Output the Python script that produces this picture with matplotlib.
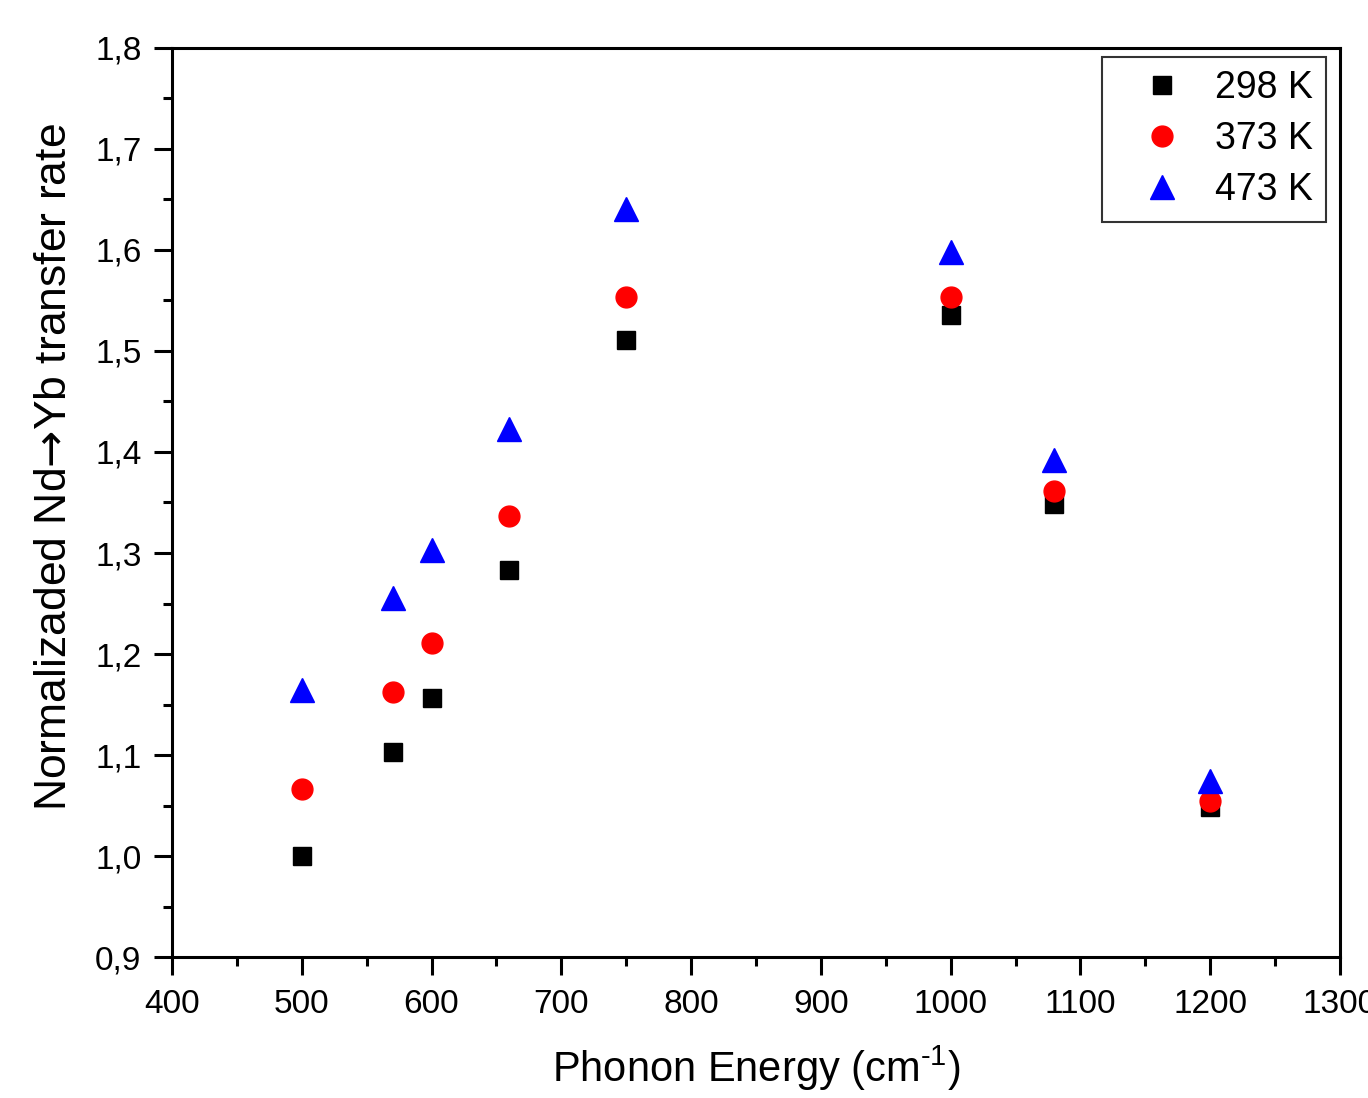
import matplotlib
matplotlib.use('Agg')
import matplotlib.pyplot as plt
from matplotlib.ticker import MultipleLocator, FuncFormatter

plt.rcParams['font.family'] = ['Liberation Sans', 'DejaVu Sans']
plt.rcParams['mathtext.fontset'] = 'custom'
plt.rcParams['mathtext.rm'] = 'Liberation Sans'
plt.rcParams['mathtext.sf'] = 'DejaVu Sans'

# Phonon energy (cm-1)
energy = [500, 570, 600, 660, 750, 1000, 1080, 1200]

# Normalized Nd->Yb transfer rate for each temperature
rate_298 = [1.000, 1.103, 1.156, 1.283, 1.511, 1.536, 1.349, 1.049]
rate_373 = [1.066, 1.162, 1.211, 1.337, 1.553, 1.553, 1.361, 1.054]
rate_473 = [1.164, 1.255, 1.303, 1.423, 1.641, 1.598, 1.392, 1.074]

labels = ["298 K", "373 K", "473 K"]

fig = plt.figure(figsize=(13.68, 10.98), dpi=100)
ax = fig.add_axes([0.1257, 0.1284, 0.8538, 0.8279])

ax.plot(energy, rate_298, 's', color='black', ms=13.5, mec='black', label=labels[0], linestyle='none')
ax.plot(energy, rate_373, 'o', color='red', ms=15, mec='red', label=labels[1], linestyle='none')
ax.plot(energy, rate_473, '^', color='blue', ms=17, mec='blue', label=labels[2], linestyle='none')

ax.set_xlim(400, 1300)
ax.set_ylim(0.9, 1.8)
ax.xaxis.set_major_locator(MultipleLocator(100))
ax.xaxis.set_minor_locator(MultipleLocator(50))
ax.yaxis.set_major_locator(MultipleLocator(0.1))
ax.yaxis.set_minor_locator(MultipleLocator(0.05))
ax.yaxis.set_major_formatter(FuncFormatter(lambda v, p: f"{v:.1f}".replace('.', ',')))

for s in ax.spines.values():
    s.set_linewidth(2.2)
ax.tick_params(which='major', direction='out', length=13, width=2.2, labelsize=24)
ax.tick_params(axis='x', which='major', pad=10)
ax.tick_params(axis='y', which='major', pad=9)
ax.tick_params(which='minor', direction='out', length=6.5, width=2.2)

ax.set_xlabel("Phonon Energy (cm$^{\\mathregular{\u20101}}$)", fontsize=30, labelpad=17)
ax.set_ylabel("Normalizaded Nd$\\mathsf{\u2192}$Yb transfer rate", fontsize=32)
ax.yaxis.set_label_coords(-0.083, 0.539)

leg = ax.legend(loc='upper right', fontsize=27, frameon=True, fancybox=False,
                edgecolor='black', borderpad=0.35, handletextpad=0.15,
                labelspacing=0.4, handlelength=2.5, borderaxespad=0.25,
                bbox_to_anchor=(0.996, 1.0))
leg.get_frame().set_linewidth(1.5)

fig.savefig('out.png', dpi=100)
